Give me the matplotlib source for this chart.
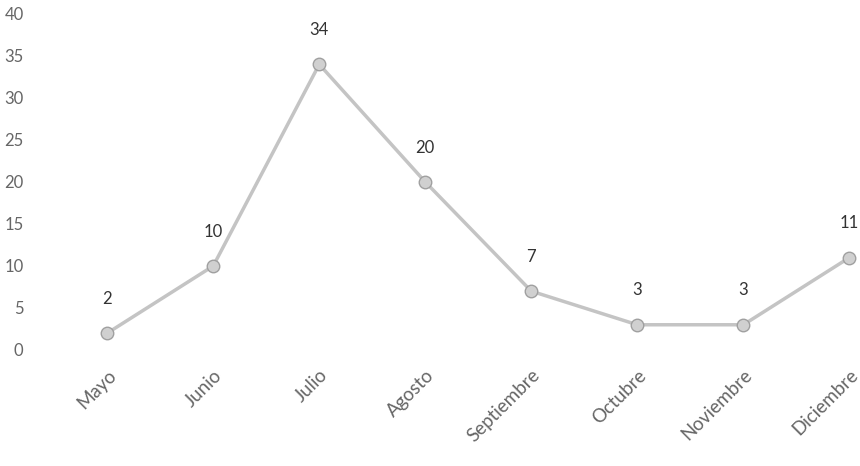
import matplotlib.pyplot as plt

months = ["Mayo", "Junio", "Julio", "Agosto", "Septiembre", "Octubre", "Noviembre", "Diciembre"]
values = [2, 10, 34, 20, 7, 3, 3, 11]
yticks = [0, 5, 10, 15, 20, 25, 30, 35, 40]

plt.rcParams["font.family"] = ["Lato", "DejaVu Sans"]

fig = plt.figure(figsize=(8.6, 4.66), dpi=100)
ax = fig.add_axes([0.063, 0.249, 0.937, 0.721])

x = list(range(len(months)))
ax.plot(x, values, color="#c4c4c4", linewidth=2.5, marker="o", markersize=9,
        markerfacecolor="#d0d0d0", markeredgecolor="#a0a0a0", markeredgewidth=1)

# data labels above each point
for xi, v in zip(x, values):
    ax.annotate(str(v), (xi, v), xytext=(0, 19), textcoords="offset points",
                ha="center", va="bottom", fontsize=12, color="#333333")

ax.set_xlim(-0.5, 7.1)
ax.set_ylim(0, 40)
ax.set_yticks(yticks)
ax.set_xticks(x)
ax.set_xticklabels(months, rotation=45, ha="right", rotation_mode="anchor")
ax.tick_params(axis="both", length=0, labelcolor="#666666")
ax.tick_params(axis="y", pad=22, labelsize=12)
ax.tick_params(axis="x", pad=12, labelsize=13.5)
for s in ax.spines.values():
    s.set_visible(False)

plt.savefig("out.png")
